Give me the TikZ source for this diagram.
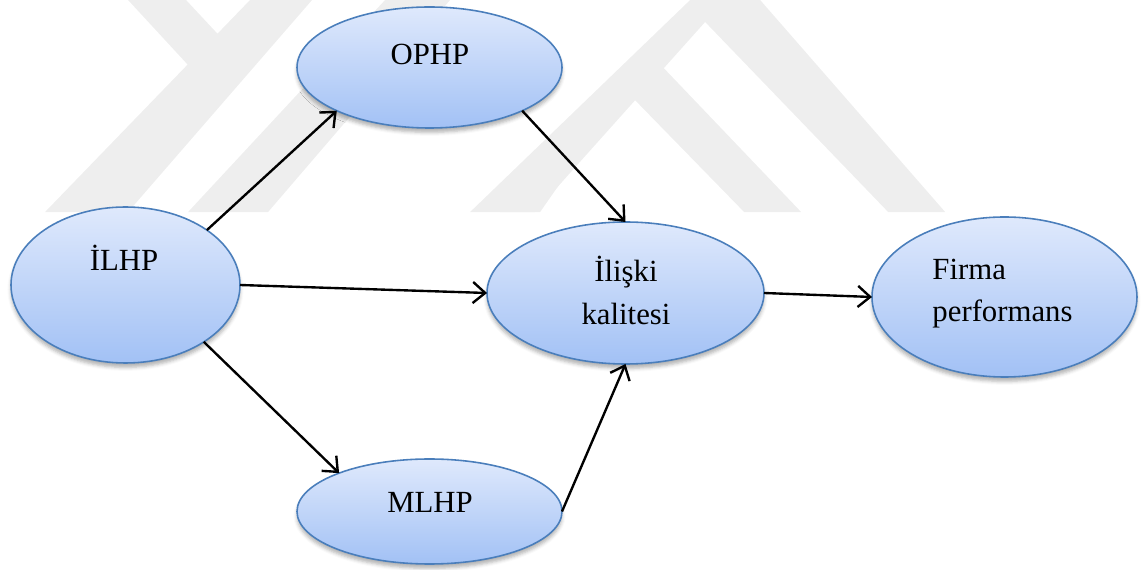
\documentclass[tikz,border=0pt]{standalone}
\usepackage{fontspec}
\setmainfont{Liberation Serif}
\usetikzlibrary{arrows.meta, shapes.geometric, shadows.blur}
\definecolor{c1}{HTML}{000000}
\definecolor{edgeblue}{HTML}{4A7EBB}
\definecolor{toplight}{HTML}{DFE9FC}
\definecolor{botdark}{HTML}{A2C1F5}
\definecolor{wmgray}{HTML}{EEEEEE}

\begin{document}
\begin{tikzpicture}[
    every node/.style={font=\fontsize{17.5}{24}\selectfont},
    oval/.style={ellipse, draw=edgeblue, line width=0.9pt, top color=toplight,
        bottom color=botdark, inner sep=0pt, outer sep=0pt,
        blur shadow={shadow xshift=0pt, shadow yshift=-2.5pt,
            shadow blur radius=2pt, shadow opacity=30}},
    txt/.style={inner sep=0pt, text=c1},
    link/.style={c1, line width=1.35pt, -{Straight Barb[length=7pt, width=12pt]}},
]
\useasboundingbox (0,0) rectangle (22.88,11.4);

% faint watermark behind the model, in pixel units from the top
\begin{scope}[x=0.02cm, y=-0.02cm, yshift=11.4cm]
\fill[wmgray] (128,0) -- (186,0) -- (228,45) -- (200,78) -- cycle;
\fill[wmgray] (250,0) -- (312,0) -- (128,212) -- (45,212) -- cycle;
\fill[wmgray] (385,0) -- (450,0) -- (268,212) -- (188,212) -- cycle;
\fill[wmgray] (470,212) -- (690,0) -- (760,0) -- (945,212) -- (888,212)
    -- (705,22) -- (535,212) -- cycle;
\fill[wmgray] (500,212) -- (654,58) -- (801,212) -- (744,212)
    -- (625,90) -- (540,212) -- cycle;
\end{scope}

% the five constructs
\node[oval, minimum width=4.58cm, minimum height=3.12cm] (ilhp) at (2.51, 5.70) {};
\node[oval, minimum width=5.30cm, minimum height=2.42cm] (ophp) at (8.59, 10.05) {};
\node[oval, minimum width=5.54cm, minimum height=2.84cm] (iliski) at (12.51, 5.54) {};
\node[oval, minimum width=5.30cm, minimum height=3.20cm] (firma) at (20.09, 5.46) {};
\node[oval, minimum width=5.30cm, minimum height=2.10cm] (mlhp) at (8.59, 1.17) {};

\node[txt, anchor=base] (ilhp-t) at (2.48, 5.98) {İLHP};
\node[txt, anchor=base] (ophp-t) at (8.60, 10.10) {OPHP};
\node[txt, align=center] (iliski-t) at (12.52, 5.59) {İlişki\\kalitesi};
\node[txt, align=left] (firma-t) at (20.05, 5.53) {Firma\\performans};
\node[txt, anchor=base] (mlhp-t) at (8.60, 1.14) {MLHP};

% paths
\draw[link] (ilhp.34) -- (ophp.205);
\draw[link] (ilhp.east) -- (iliski.west);
\draw[link] (ilhp.-36) -- (mlhp.157);
\draw[link] (ophp.-25) -- (iliski.north);
\draw[link] (mlhp.east) -- (iliski.south);
\draw[link] (iliski.east) -- (firma.west);
\end{tikzpicture}
\end{document}
